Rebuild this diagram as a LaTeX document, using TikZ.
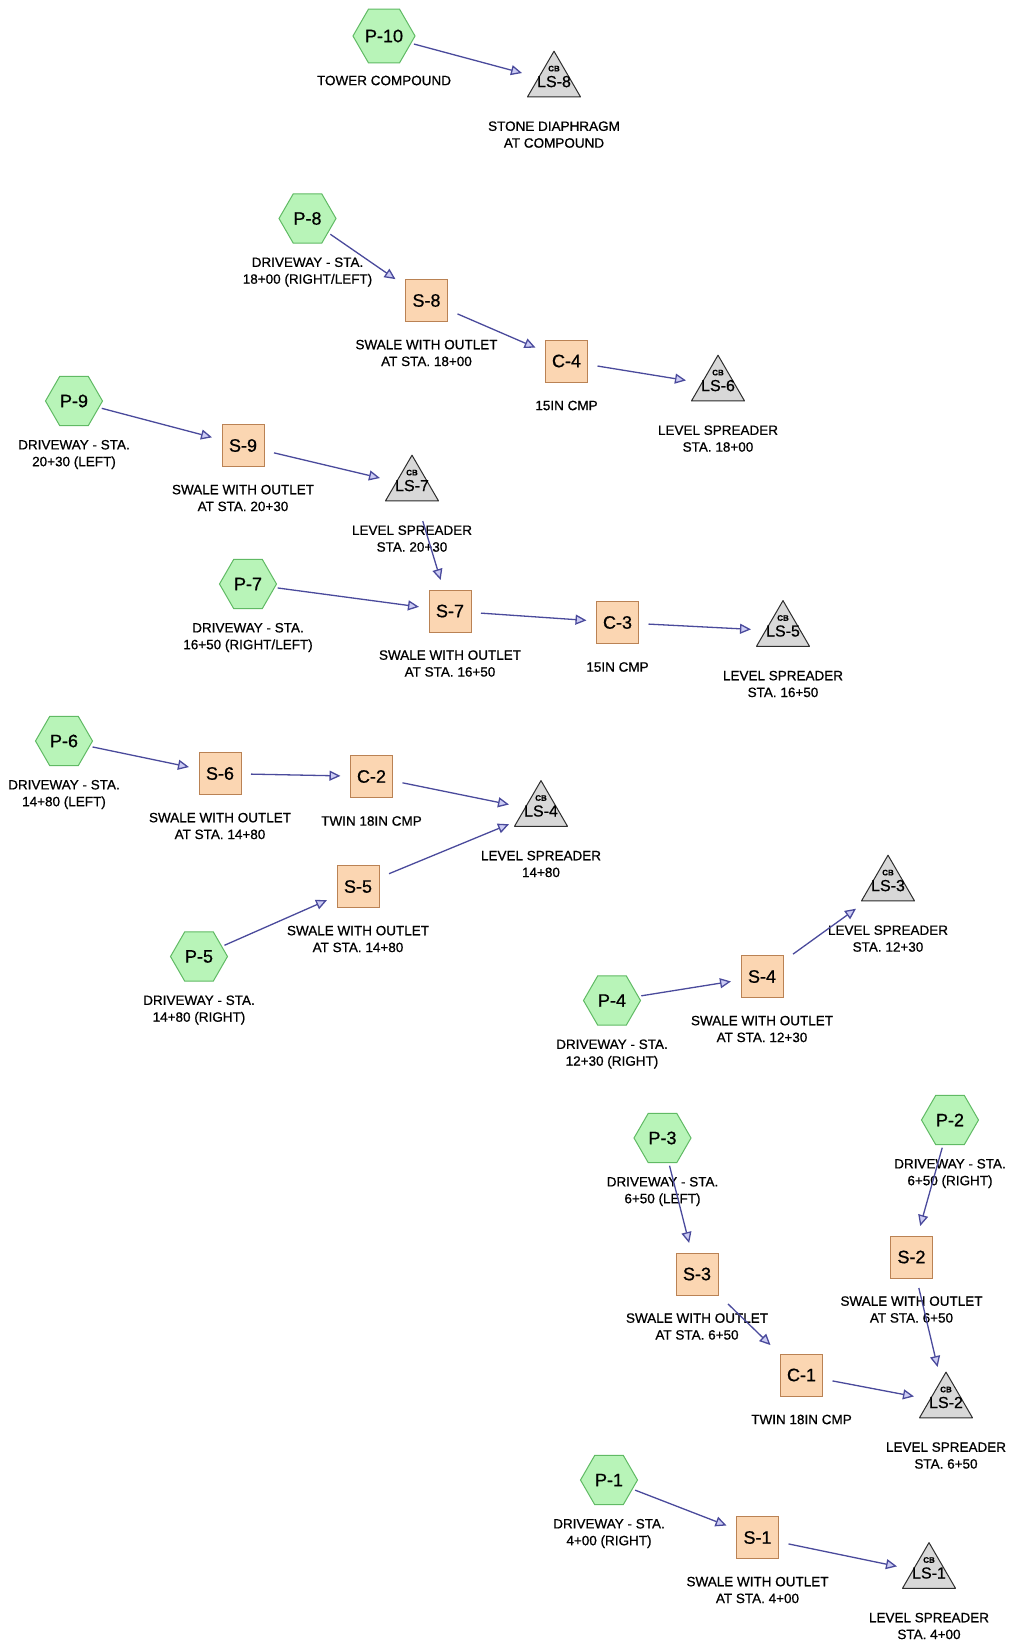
\documentclass[tikz,border=0pt]{standalone}
\usepackage{fontspec}
\setmainfont{Liberation Sans}[FakeBold=0.7]
\usetikzlibrary{arrows.meta,shapes.geometric}
\definecolor{hexfill}{RGB}{184,244,184}
\definecolor{hexdraw}{RGB}{96,186,100}
\definecolor{sqfill}{RGB}{251,214,178}
\definecolor{sqdraw}{RGB}{186,130,84}
\definecolor{trifill}{RGB}{216,216,216}
\definecolor{tridraw}{RGB}{45,45,45}
\definecolor{edgecol}{RGB}{74,74,156}
\definecolor{tipfill}{RGB}{204,204,244}
\tikzset{
 hexnode/.style={regular polygon, regular polygon sides=6, minimum size=57pt, inner sep=0pt, outer sep=3pt, fill=hexfill, draw=hexdraw, line width=1pt, font=\fontsize{18}{20}\selectfont},
 sqnode/.style={rectangle, minimum size=42pt, inner sep=0pt, outer sep=10pt, fill=sqfill, draw=sqdraw, line width=1pt, font=\fontsize{18}{20}\selectfont},
 trinode/.style={rectangle, minimum width=56pt, minimum height=63pt, inner sep=0pt, outer sep=4pt, font=\fontsize{16}{18}\selectfont,
   path picture={\filldraw[fill=trifill, draw=tridraw, line width=1pt, line join=round]
     ([yshift=30.4pt]path picture bounding box.center) --
     ([xshift=-26.5pt,yshift=-15.3pt]path picture bounding box.center) --
     ([xshift=26.5pt,yshift=-15.3pt]path picture bounding box.center) -- cycle;}},
 cbnode/.style={inner sep=0pt, font=\fontsize{8}{8}\selectfont\bfseries},
 lbl/.style={align=center, inner sep=0pt, font=\fontsize{13.5}{16.8}\selectfont},
 flow/.style={draw=edgecol, line width=1.3pt, -{Triangle[length=11pt,width=10pt,fill=tipfill]}},
}
\begin{document}
\begin{tikzpicture}[x=1pt,y=-1pt]
\fill[white] (0,0) rectangle (1010,1641);
\useasboundingbox (0,0) rectangle (1010,1641);

% hexagons
\node[hexnode] (p10) at (384,36) {P-10};
\node[hexnode] (p8) at (307.5,218.5) {P-8};
\node[hexnode] (p9) at (74,401) {P-9};
\node[hexnode] (p7) at (248,584) {P-7};
\node[hexnode] (p6) at (64,741) {P-6};
\node[hexnode] (p5) at (199,956.5) {P-5};
\node[hexnode] (p4) at (612,1000.5) {P-4};
\node[hexnode] (p3) at (662.5,1138) {P-3};
\node[hexnode] (p2) at (950,1120) {P-2};
\node[hexnode] (p1) at (609,1480) {P-1};

% squares
\node[sqnode] (s8) at (426.5,300.5) {S-8};
\node[sqnode] (c4) at (566.5,361) {C-4};
\node[sqnode] (s9) at (243,445.5) {S-9};
\node[sqnode] (s7) at (450,611) {S-7};
\node[sqnode] (c3) at (617.5,622.5) {C-3};
\node[sqnode] (s6) at (220,773.5) {S-6};
\node[sqnode] (c2) at (371.5,776.5) {C-2};
\node[sqnode] (s5) at (358,886.5) {S-5};
\node[sqnode] (s4) at (762,976.5) {S-4};
\node[sqnode] (s3) at (697,1274) {S-3};
\node[sqnode] (s2) at (911.5,1257) {S-2};
\node[sqnode] (c1) at (801.5,1375) {C-1};
\node[sqnode] (s1) at (757.5,1537.5) {S-1};

% triangles
\node[trinode] (ls8) at (554,81.6) {LS-8};
\node[trinode] (ls6) at (718,385.6) {LS-6};
\node[trinode] (ls7) at (412,485.6) {LS-7};
\node[trinode] (ls5) at (783,631) {LS-5};
\node[trinode] (ls4) at (541,811) {LS-4};
\node[trinode] (ls3) at (888,885.6) {LS-3};
\node[trinode] (ls2) at (946,1402.5) {LS-2};
\node[trinode] (ls1) at (929,1573) {LS-1};
\foreach \t in {ls8,ls6,ls7,ls5,ls4,ls3,ls2,ls1}{
  \node[cbnode] (\t cb) at ([yshift=13pt]\t.center) {CB};
}

% labels
\node[lbl] (p10l) at ([yshift=-44.5pt]p10.center) {TOWER COMPOUND};
\node[lbl] (ls8l) at ([yshift=-53pt]ls8.center) {STONE DIAPHRAGM\\AT COMPOUND};
\node[lbl] (p8l) at ([yshift=-53.5pt]p8.center) {DRIVEWAY - STA.\\18+00 (RIGHT/LEFT)};
\node[lbl] (s8l) at ([yshift=-52.5pt]s8.center) {SWALE WITH OUTLET\\AT STA. 18+00};
\node[lbl] (c4l) at ([yshift=-44.5pt]c4.center) {15IN CMP};
\node[lbl] (ls6l) at ([yshift=-53pt]ls6.center) {LEVEL SPREADER\\STA. 18+00};
\node[lbl] (p9l) at ([yshift=-53.5pt]p9.center) {DRIVEWAY - STA.\\20+30 (LEFT)};
\node[lbl] (s9l) at ([yshift=-52.5pt]s9.center) {SWALE WITH OUTLET\\AT STA. 20+30};
\node[lbl] (ls7l) at ([yshift=-53pt]ls7.center) {LEVEL SPREADER\\STA. 20+30};
\node[lbl] (p7l) at ([yshift=-53.5pt]p7.center) {DRIVEWAY - STA.\\16+50 (RIGHT/LEFT)};
\node[lbl] (s7l) at ([yshift=-52.5pt]s7.center) {SWALE WITH OUTLET\\AT STA. 16+50};
\node[lbl] (c3l) at ([yshift=-44.5pt]c3.center) {15IN CMP};
\node[lbl] (ls5l) at ([yshift=-53pt]ls5.center) {LEVEL SPREADER\\STA. 16+50};
\node[lbl] (p6l) at ([yshift=-53.5pt]p6.center) {DRIVEWAY - STA.\\14+80 (LEFT)};
\node[lbl] (s6l) at ([yshift=-52.5pt]s6.center) {SWALE WITH OUTLET\\AT STA. 14+80};
\node[lbl] (c2l) at ([yshift=-44.5pt]c2.center) {TWIN 18IN CMP};
\node[lbl] (ls4l) at ([yshift=-53pt]ls4.center) {LEVEL SPREADER\\14+80};
\node[lbl] (s5l) at ([yshift=-52.5pt]s5.center) {SWALE WITH OUTLET\\AT STA. 14+80};
\node[lbl] (p5l) at ([yshift=-53.5pt]p5.center) {DRIVEWAY - STA.\\14+80 (RIGHT)};
\node[lbl] (ls3l) at ([yshift=-53pt]ls3.center) {LEVEL SPREADER\\STA. 12+30};
\node[lbl] (s4l) at ([yshift=-52.5pt]s4.center) {SWALE WITH OUTLET\\AT STA. 12+30};
\node[lbl] (p4l) at ([yshift=-53.5pt]p4.center) {DRIVEWAY - STA.\\12+30 (RIGHT)};
\node[lbl] (p3l) at ([yshift=-53.5pt]p3.center) {DRIVEWAY - STA.\\6+50 (LEFT)};
\node[lbl] (p2l) at ([yshift=-53.5pt]p2.center) {DRIVEWAY - STA.\\6+50 (RIGHT)};
\node[lbl] (s3l) at ([yshift=-52.5pt]s3.center) {SWALE WITH OUTLET\\AT STA. 6+50};
\node[lbl] (s2l) at ([yshift=-52.5pt]s2.center) {SWALE WITH OUTLET\\AT STA. 6+50};
\node[lbl] (c1l) at ([yshift=-44.5pt]c1.center) {TWIN 18IN CMP};
\node[lbl] (ls2l) at ([yshift=-53pt]ls2.center) {LEVEL SPREADER\\STA. 6+50};
\node[lbl] (p1l) at ([yshift=-53.5pt]p1.center) {DRIVEWAY - STA.\\4+00 (RIGHT)};
\node[lbl] (s1l) at ([yshift=-52.5pt]s1.center) {SWALE WITH OUTLET\\AT STA. 4+00};
\node[lbl] (ls1l) at ([yshift=-53pt]ls1.center) {LEVEL SPREADER\\STA. 4+00};

% connectors
\draw[flow] (p10) -- (ls8);
\draw[flow] (p8) -- (s8);
\draw[flow] (s8) -- (c4);
\draw[flow] (c4) -- (ls6);
\draw[flow] (p9) -- (s9);
\draw[flow] (s9) -- (ls7);
\draw[flow] (ls7) -- (s7);
\draw[flow] (p7) -- (s7);
\draw[flow] (s7) -- (c3);
\draw[flow] (c3) -- (ls5);
\draw[flow] (p6) -- (s6);
\draw[flow] (s6) -- (c2);
\draw[flow] (c2) -- (ls4);
\draw[flow] (s5) -- (ls4);
\draw[flow] (p5) -- (s5);
\draw[flow] (p4) -- (s4);
\draw[flow] (s4) -- (ls3);
\draw[flow] (p3) -- (s3);
\draw[flow] (s3) -- (c1);
\draw[flow] (c1) -- (ls2);
\draw[flow] (p2) -- (s2);
\draw[flow] (s2) -- (ls2);
\draw[flow] (p1) -- (s1);
\draw[flow] (s1) -- (ls1);
\end{tikzpicture}
\end{document}
